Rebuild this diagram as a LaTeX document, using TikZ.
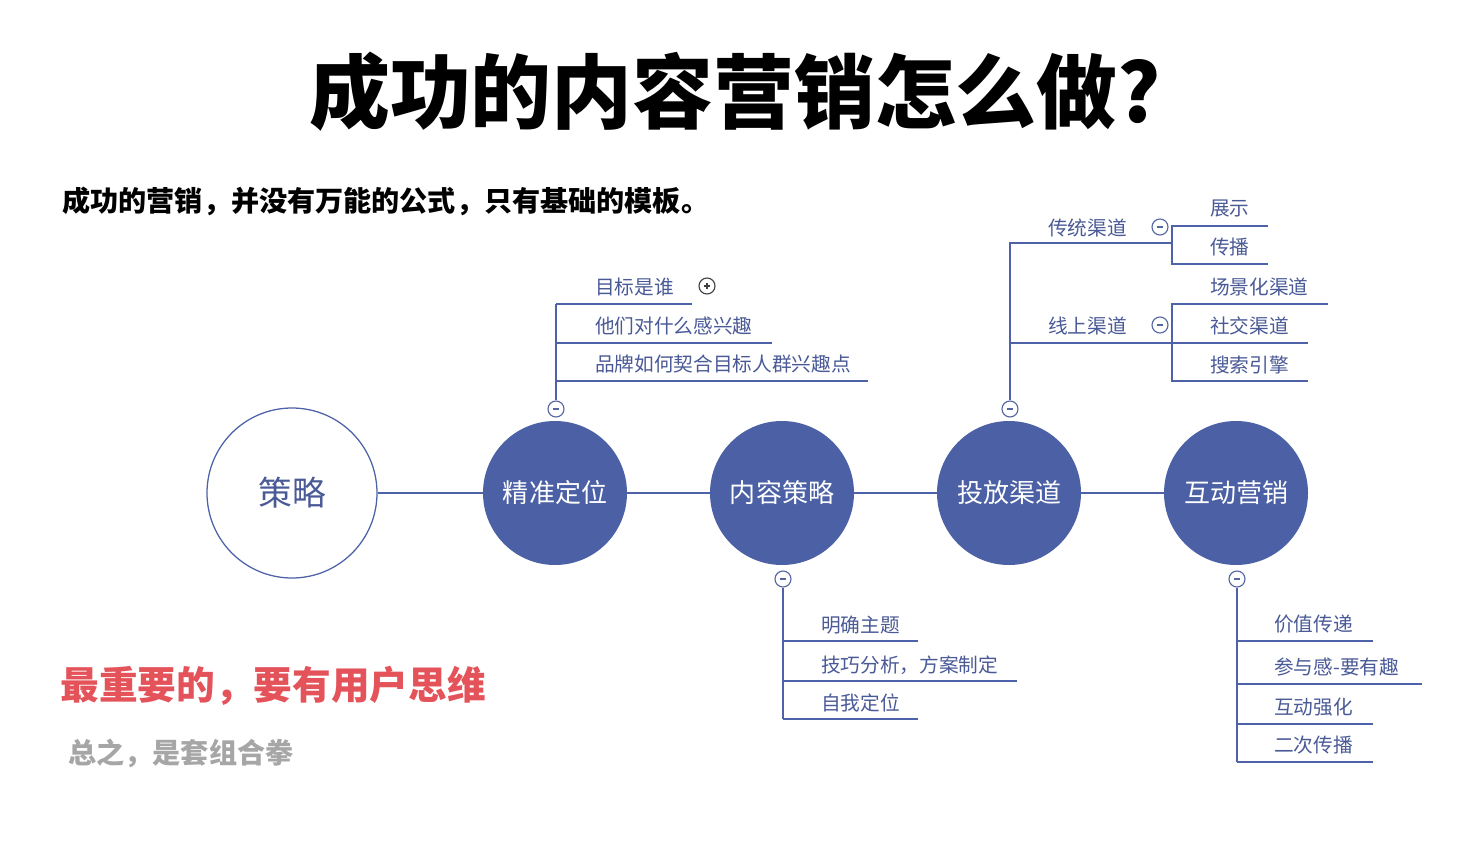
\documentclass[tikz,border=0pt]{standalone}
\usepackage{fontspec}
\setmainfont{Noto Sans CJK SC}
\usetikzlibrary{positioning,calc}
\definecolor{hub}{HTML}{4B60A5}
\definecolor{edge}{HTML}{4D62A8}
\definecolor{leafink}{HTML}{4A5A96}
\definecolor{keyred}{HTML}{E5535A}
\definecolor{muted}{HTML}{A6A6A6}

\begin{document}
\begin{tikzpicture}[x=0.05cm,y=-0.05cm,
  hub/.style={circle,fill=hub,minimum size=7.2cm,inner sep=0pt,text=white,font=\fontsize{37}{37}\selectfont},
  root/.style={circle,draw=edge,line width=1.8pt,fill=white,minimum size=8.5cm,inner sep=0pt,text=leafink,font=\fontsize{48}{48}\selectfont},
  wire/.style={draw=edge,line width=2pt},
  leaf/.style={anchor=west,inner sep=0pt,text=leafink,font=\fontsize{28}{28}\selectfont},
  fold/.style={circle,draw=edge!85!gray,line width=1.6pt,fill=white,minimum size=0.8cm,inner sep=0pt,
    path picture={\draw[edge!85!gray,line width=1.6pt] ([xshift=-0.16cm]path picture bounding box.center)--([xshift=0.16cm]path picture bounding box.center);}},
  unfold/.style={circle,draw=black!75,line width=1.6pt,fill=white,minimum size=0.8cm,inner sep=0pt,
    path picture={\draw[black!75,line width=1.6pt] ([xshift=-0.16cm]path picture bounding box.center)--([xshift=0.16cm]path picture bounding box.center)
      ([yshift=-0.16cm]path picture bounding box.center)--([yshift=0.16cm]path picture bounding box.center);}}]
  \fill[white] (0,0) rectangle (1472,842);
  \node[font=\bfseries\fontsize{115}{115}\selectfont] (title) at (735,92) {成功的内容营销怎么做?};
  \node[anchor=west,font=\bfseries\fontsize{40}{40}\selectfont] (lead) at (60,201) {成功的营销，并没有万能的公式，只有基础的模板。};
  \node[root] (s0) at (292,493) {策略};
  \foreach \x/\n/\t in {555/1/精准定位,782/2/内容策略,1009/3/投放渠道,1236/4/互动营销}
    \node[hub] (s\n) at (\x,493) {\t};
  \foreach \a/\b in {0/1,1/2,2/3,3/4}
    \draw[wire] (s\a) -- (s\b);
  \node[fold] (f1) at (556,409) {};
  \node[fold] (f2) at (783,579) {};
  \node[fold] (f3) at (1010,409) {};
  \node[fold] (f4) at (1237,579) {};
  % above: who and why
  \foreach \y/\e/\t/\k in {304/692/目标是谁/a,343/772/他们对什么感兴趣/b,381/868/品牌如何契合目标人群兴趣点/c}{
    \node[leaf] (p\k) at (595,\y-17) {\t};
    \coordinate (pe\k) at (\e,\y);
    \draw[wire] (pe\k -| f1) -- (pe\k);
  }
  \draw[wire] (f1) -- (pea -| f1);
  \node[unfold] (u1) at (707,286) {};
  % below: content
  \foreach \y/\e/\t/\k in {641/918/明确主题/a,681/1017/技巧分析，方案制定/b,719/918/自我定位/c}{
    \node[leaf] (m\k) at (821,\y-16) {\t};
    \coordinate (me\k) at (\e,\y);
    \draw[wire] (me\k -| f2) -- (me\k);
  }
  \draw[wire] (f2) -- (mec -| f2);
  \foreach \y/\e/\t/\k in {641/1373/价值传递/a,684/1422/参与感-要有趣/b,724/1373/互动强化/c,762/1373/二次传播/d}{
    \node[leaf] (h\k) at (1274,\y-17) {\t};
    \coordinate (he\k) at (\e,\y);
    \draw[wire] (he\k -| f4) -- (he\k);
  }
  \draw[wire] (f4) -- (hed -| f4);
  % channels
  \coordinate (ca) at (1172,243);
  \coordinate (cb) at (1172,343);
  \node[leaf] (qa) at (1048,228) {传统渠道};
  \node[leaf] (qb) at (1048,326) {线上渠道};
  \node[fold] (ga) at (1160,227) {};
  \node[fold] (gb) at (1160,325) {};
  \draw[wire] (f3) -- (ca -| f3) -- (ca);
  \draw[wire] (cb -| f3) -- (cb);
  \coordinate (ra1) at (1268,226);
  \coordinate (ra2) at (1268,264);
  \draw[wire] (ra1) -- (ra1 -| ca) -- (ra2 -| ca) -- (ra2);
  \node[leaf] (la1) at (1210,209) {展示};
  \node[leaf] (la2) at (1210,247) {传播};
  \coordinate (rb1) at (1328,304);
  \coordinate (rb2) at (1308,343);
  \coordinate (rb3) at (1308,381);
  \draw[wire] (rb1) -- (rb1 -| cb) -- (rb3 -| cb) -- (rb3);
  \draw[wire] (cb) -- (rb2);
  \node[leaf] (lb1) at (1210,287) {场景化渠道};
  \node[leaf] (lb2) at (1210,326) {社交渠道};
  \node[leaf] (lb3) at (1210,365) {搜索引擎};
  \node[anchor=west,text=keyred,font=\bfseries\fontsize{55}{55}\selectfont] (key) at (58,686) {最重要的，要有用户思维};
  \node[anchor=west,text=muted,font=\bfseries\fontsize{40}{40}\selectfont] (sum) at (66,753) {总之，是套组合拳};
\end{tikzpicture}
\end{document}
